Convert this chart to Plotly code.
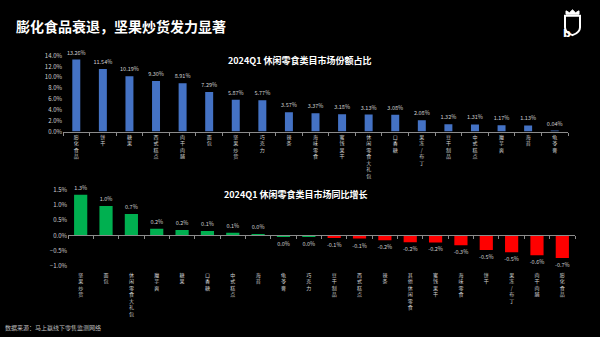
import plotly.graph_objects as go

# ---------------- data ----------------
share_cats = ["膨化食品", "饼干", "糖果", "西式糕点", "肉干肉脯", "面包", "坚果炒货", "巧克力", "辣条",
              "海味零食", "蜜饯果干", "休闲零食大礼包", "口香糖", "果冻/布丁", "豆干制品", "中式糕点",
              "魔芋爽", "海苔", "龟苓膏"]
share_vals = [13.26, 11.54, 10.19, 9.30, 8.91, 7.29, 5.87, 5.77, 3.57, 3.37, 3.18, 3.13, 3.08, 2.08,
              1.32, 1.31, 1.17, 1.13, 0.04]

growth_cats = ["坚果炒货", "面包", "休闲零食大礼包", "魔芋爽", "糖果", "口香糖", "中式糕点", "海苔",
               "龟苓膏", "巧克力", "豆干制品", "西式糕点", "辣条", "其他休闲零食", "蜜饯果干", "海味零食",
               "饼干", "果冻/布丁", "肉干肉脯", "膨化食品"]
growth_vals = [1.34, 0.97, 0.71, 0.22, 0.18, 0.15, 0.09, 0.02, -0.02, -0.03, -0.08, -0.10, -0.16,
               -0.22, -0.23, -0.32, -0.48, -0.55, -0.65, -0.74]
growth_labels = ["1.3%", "1.0%", "0.7%", "0.2%", "0.2%", "0.1%", "0.1%", "0.0%", "0.0%", "0.0%",
                 "-0.1%", "-0.1%", "-0.2%", "-0.2%", "-0.2%", "-0.3%", "-0.5%", "-0.5%", "-0.6%", "-0.7%"]

title_main = "膨化食品衰退，坚果炒货发力显著"
title_share = "2024Q1 休闲零食类目市场份额占比"
title_growth = "2024Q1 休闲零食类目市场同比增长"
source_note = "数据来源：马上赢线下零售监测网络"

# ---------------- style ----------------
FONT = "Noto Sans CJK SC"
W, H = 600, 337
LABEL_C = "#d0d0d0"
BLUE = "#4472C4"
GREEN = "#00B050"
RED = "#FF0000"


def vert(s):
    return "<br>".join(list(s))


def px_x(p):
    return p / W


def px_y(p):
    return 1 - p / H


top_dom_x = [px_x(63), px_x(568)]
top_dom_y = [px_y(130), px_y(52)]
bot_dom_x = [px_x(68), px_x(575)]
bot_dom_y = [px_y(268), px_y(190)]
g_rng = [-1.0, 1.5]
zero_pos = bot_dom_y[0] + (0 - g_rng[0]) / (g_rng[1] - g_rng[0]) * (bot_dom_y[1] - bot_dom_y[0])

fig = go.Figure()

fig.add_trace(go.Bar(
    x=share_cats, y=share_vals, xaxis="x", yaxis="y",
    marker=dict(color=BLUE, line=dict(width=0)), width=0.3,
    text=[f"{v:.2f}%" for v in share_vals], textposition="outside",
    textfont=dict(size=5.5, color=LABEL_C, family=FONT),
    constraintext="none", cliponaxis=False, hoverinfo="skip",
))

growth_colors = [GREEN if i < 10 else RED for i in range(len(growth_vals))]
fig.add_trace(go.Bar(
    x=growth_cats, y=growth_vals, xaxis="x2", yaxis="y2",
    marker=dict(color=growth_colors, line=dict(width=0)), width=0.52,
    text=growth_labels, textposition="outside",
    textfont=dict(size=5.5, color=LABEL_C, family=FONT),
    constraintext="none", cliponaxis=False, hoverinfo="skip",
))

# invisible trace to keep the overlay axis alive
fig.add_trace(go.Scatter(x=[0], y=[0], xaxis="x3", yaxis="y2", mode="markers",
                         marker=dict(opacity=0), hoverinfo="skip"))

fig.update_layout(
    width=W, height=H,
    margin=dict(l=0, r=0, t=0, b=0),
    paper_bgcolor="black", plot_bgcolor="black",
    showlegend=False,
    font=dict(family=FONT, color=LABEL_C, size=6),
    xaxis=dict(
        domain=top_dom_x, anchor="y", type="category",
        tickvals=share_cats, ticktext=[vert(c) for c in share_cats],
        tickfont=dict(size=5, color=LABEL_C), tickangle=0,
        showline=True, linecolor="#8c8c8c", linewidth=1,
        ticks="outside", tickson="boundaries", ticklen=3, tickcolor="#8c8c8c",
        showgrid=False, zeroline=False, fixedrange=True,
    ),
    yaxis=dict(
        domain=top_dom_y, anchor="x", range=[0, 14], dtick=2, tickformat=".1f", ticksuffix="%",
        tickfont=dict(size=6, color=LABEL_C), showgrid=False, zeroline=False, showline=False,
        ticks="", fixedrange=True,
    ),
    xaxis2=dict(
        domain=bot_dom_x, anchor="y2", type="category",
        tickvals=growth_cats, ticktext=[vert(c) for c in growth_cats],
        tickfont=dict(size=5, color=LABEL_C), tickangle=0, ticklabelstandoff=5,
        showline=False, ticks="", showgrid=False, zeroline=False, fixedrange=True,
    ),
    xaxis3=dict(
        overlaying="x2", anchor="free", position=zero_pos, range=[-0.5, len(growth_cats) - 0.5],
        tickvals=[i - 0.5 for i in range(len(growth_cats) + 1)], showticklabels=False,
        showline=True, linecolor="#8c8c8c", linewidth=1,
        ticks="outside", ticklen=3, tickcolor="#8c8c8c", showgrid=False, zeroline=False,
        fixedrange=True,
    ),
    yaxis2=dict(
        domain=bot_dom_y, anchor="x2", range=g_rng, dtick=0.5, tickformat=".1f", ticksuffix="%",
        tickfont=dict(size=6, color=LABEL_C), showgrid=False, zeroline=False, showline=False,
        ticks="", fixedrange=True,
    ),
)

fig.add_annotation(text=f"<b>{title_main}</b>", x=px_x(14), y=px_y(22), xref="paper", yref="paper",
                   xanchor="left", yanchor="middle", showarrow=False,
                   font=dict(size=14, color="white", family=FONT))
fig.add_annotation(text=f"<b>{title_share}</b>", x=px_x(300), y=px_y(57), xref="paper", yref="paper",
                   xanchor="center", yanchor="middle", showarrow=False,
                   font=dict(size=9, color="white", family=FONT))
fig.add_annotation(text=f"<b>{title_growth}</b>", x=px_x(296), y=px_y(195), xref="paper", yref="paper",
                   xanchor="center", yanchor="middle", showarrow=False,
                   font=dict(size=9, color="white", family=FONT))
fig.add_annotation(text=source_note, x=px_x(3), y=px_y(331), xref="paper", yref="paper",
                   xanchor="left", yanchor="middle", showarrow=False,
                   font=dict(size=6, color="#bfbfbf", family=FONT))

# logo (shield)
fig.add_shape(type="path", xref="paper", yref="paper",
              path=f"M {px_x(565)} {px_y(11)} L {px_x(580)} {px_y(11)} L {px_x(580)} {px_y(23)} "
                   f"Q {px_x(580)} {px_y(28)} {px_x(572.5)} {px_y(31)} "
                   f"Q {px_x(565)} {px_y(28)} {px_x(565)} {px_y(23)} Z",
              line=dict(color="white", width=2), fillcolor="black")
fig.add_shape(type="path", xref="paper", yref="paper",
              path=f"M {px_x(566)} {px_y(9.5)} L {px_x(566)} {px_y(6)} L {px_x(569.5)} {px_y(8)} "
                   f"L {px_x(572.5)} {px_y(5)} L {px_x(575.5)} {px_y(8)} L {px_x(579)} {px_y(6)} "
                   f"L {px_x(579)} {px_y(9.5)} Z",
              line=dict(color="white", width=1), fillcolor="white")
fig.add_annotation(text="<b>b</b>", x=px_x(572.5), y=px_y(21), xref="paper", yref="paper",
                   showarrow=False, font=dict(size=11, color="white", family="DejaVu Sans"))

fig.write_html("out.html")
